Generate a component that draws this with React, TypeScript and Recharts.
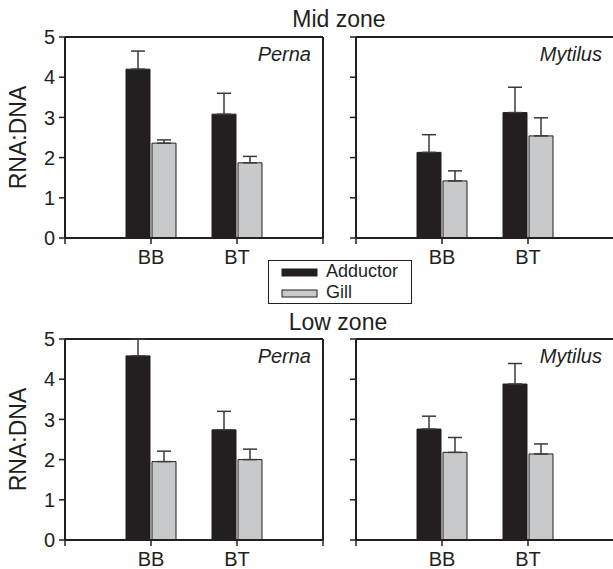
import React from 'react';
import { BarChart, Bar, XAxis, YAxis, ErrorBar, ReferenceLine, Legend } from 'recharts';

// sites on the x axis, tick labels padded with empty ends
const sites = ['BB', 'BT'];
const xTickLabels = ['', ...sites, ''];
const yTicks = [0, 1, 2, 3, 4, 5];

// Mid zone
const midPernaAdductor = [4.2, 3.08];
const midPernaAdductorErr = [0.45, 0.52];
const midPernaGill = [2.36, 1.87];
const midPernaGillErr = [0.08, 0.16];
const midMytilusAdductor = [2.13, 3.12];
const midMytilusAdductorErr = [0.44, 0.63];
const midMytilusGill = [1.42, 2.54];
const midMytilusGillErr = [0.25, 0.45];

// Low zone
const lowPernaAdductor = [4.58, 2.74];
const lowPernaAdductorErr = [0.42, 0.46];
const lowPernaGill = [1.95, 2.0];
const lowPernaGillErr = [0.26, 0.26];
const lowMytilusAdductor = [2.76, 3.88];
const lowMytilusAdductorErr = [0.32, 0.51];
const lowMytilusGill = [2.18, 2.14];
const lowMytilusGillErr = [0.37, 0.25];

const FONT = '"Liberation Sans", Arial, Helvetica, sans-serif';
const INK = '#231f20';
const GILL = '#c8c9cb';

const buildRows = (adductor: number[], adductorErr: number[], gill: number[], gillErr: number[]) =>
  sites.map((site, i) => ({
    x: i + 1,
    site,
    adductor: adductor[i],
    adductorErr: [0, adductorErr[i]],
    gill: gill[i],
    gillErr: [0, gillErr[i]],
  }));

const LegendBox = (props: any) => {
  const items = props.payload || [];
  return (
    <svg width={145} height={45} style={{ display: 'block' }}>
      <rect x={0.5} y={0.5} width={143} height={43} fill="#fff" stroke={INK} strokeWidth={1} />
      {items.map((it: any, i: number) => (
        <g key={it.value}>
          <rect x={14} y={9 + i * 21} width={35} height={7} fill={it.color} stroke={INK} strokeWidth={1} />
          <text x={58} y={17 + i * 21} fontSize={18} fontFamily={FONT} fill={INK}>
            {it.value}
          </text>
        </g>
      ))}
    </svg>
  );
};

interface PanelProps {
  rows: ReturnType<typeof buildRows>;
  species: string;
  left: number;
  top: number;
  showYLabels: boolean;
  showRightBorder: boolean;
  showLegend?: boolean;
}

const Panel: React.FC<PanelProps> = ({ rows, species, left, top, showYLabels, showRightBorder, showLegend }) => (
  <div style={{ position: 'absolute', left, top }}>
    <BarChart
      width={345}
      height={290}
      data={rows}
      margin={{ top: 37, right: 22, left: 5, bottom: 22 }}
      barSize={24}
      barGap={2}
    >
      <XAxis
        type="number"
        dataKey="x"
        domain={[0, 3]}
        ticks={[0, 1, 2, 3]}
        interval={0}
        tickFormatter={(v: number) => xTickLabels[v] ?? ''}
        height={30}
        axisLine={{ stroke: INK, strokeWidth: 2 }}
        tickLine={{ stroke: INK, strokeWidth: 1.5 }}
        tickSize={6}
        tickMargin={6}
        tick={{ fill: INK, fontSize: 20, fontFamily: FONT }}
      />
      <YAxis
        type="number"
        domain={[0, 5]}
        allowDataOverflow
        ticks={yTicks}
        interval={0}
        width={60}
        tickFormatter={(v: number) => (showYLabels ? String(v) : '')}
        axisLine={{ stroke: INK, strokeWidth: 2 }}
        tickLine={{ stroke: INK, strokeWidth: 1.5 }}
        tickSize={6}
        tickMargin={4}
        tick={{ fill: INK, fontSize: 20, fontFamily: FONT }}
        label={
          showYLabels
            ? (p: any) => {
                const vb = p.viewBox;
                const cy = vb.y + vb.height / 2;
                return (
                  <text
                    transform={`translate(${vb.x + 21}, ${cy}) rotate(-90)`}
                    textAnchor="middle"
                    fontSize={23}
                    fontFamily={FONT}
                    fill={INK}
                  >
                    RNA:DNA
                  </text>
                );
              }
            : undefined
        }
      />
      <ReferenceLine
        y={5}
        stroke={INK}
        strokeWidth={2}
        label={(p: any) => {
          const vb = p.viewBox;
          return (
            <text
              x={vb.x + vb.width - 12}
              y={vb.y + 24}
              textAnchor="end"
              fontSize={20}
              fontStyle="italic"
              fontFamily={FONT}
              fill={INK}
            >
              {species}
            </text>
          );
        }}
      />
      {showRightBorder && <ReferenceLine x={3} stroke={INK} strokeWidth={2} />}
      <Bar dataKey="adductor" name="Adductor" fill={INK} stroke={INK} strokeWidth={1} isAnimationActive={false}>
        <ErrorBar dataKey="adductorErr" direction="y" width={7} stroke="#3a3a3a" strokeWidth={1.5} />
      </Bar>
      <Bar dataKey="gill" name="Gill" fill={GILL} stroke={INK} strokeWidth={1} isAnimationActive={false}>
        <ErrorBar dataKey="gillErr" direction="y" width={7} stroke="#3a3a3a" strokeWidth={1.5} />
      </Bar>
      {showLegend && (
        <Legend
          layout="horizontal"
          verticalAlign="middle"
          align="center"
          wrapperStyle={{ left: 268, top: 260, width: 145, height: 45, zIndex: 2 }}
          content={LegendBox}
        />
      )}
    </BarChart>
  </div>
);

export default function App() {
  return (
    <div
      style={{
        position: 'absolute',
        left: 0,
        top: 0,
        width: 613,
        height: 569,
        overflow: 'hidden',
        background: '#fff',
        fontFamily: FONT,
      }}
    >
      <Panel
        rows={buildRows(lowPernaAdductor, lowPernaAdductorErr, lowPernaGill, lowPernaGillErr)}
        species="Perna"
        left={0}
        top={302}
        showYLabels
        showRightBorder
      />
      <Panel
        rows={buildRows(lowMytilusAdductor, lowMytilusAdductorErr, lowMytilusGill, lowMytilusGillErr)}
        species="Mytilus"
        left={291}
        top={302}
        showYLabels={false}
        showRightBorder={false}
      />
      <Panel
        rows={buildRows(midMytilusAdductor, midMytilusAdductorErr, midMytilusGill, midMytilusGillErr)}
        species="Mytilus"
        left={291}
        top={0}
        showYLabels={false}
        showRightBorder={false}
      />
      <Panel
        rows={buildRows(midPernaAdductor, midPernaAdductorErr, midPernaGill, midPernaGillErr)}
        species="Perna"
        left={0}
        top={0}
        showYLabels
        showRightBorder
        showLegend
      />
      <svg
        width={613}
        height={569}
        style={{ position: 'absolute', left: 0, top: 0, pointerEvents: 'none' }}
      >
        <text x={339} y={27} textAnchor="middle" fontSize={23} fontFamily={FONT} fill={INK}>
          Mid zone
        </text>
        <text x={338} y={330} textAnchor="middle" fontSize={23} fontFamily={FONT} fill={INK}>
          Low zone
        </text>
      </svg>
    </div>
  );
}
